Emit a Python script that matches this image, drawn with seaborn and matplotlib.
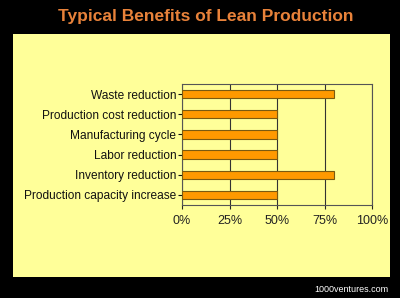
import matplotlib
matplotlib.use("Agg")
import matplotlib.pyplot as plt
import seaborn as sns
import pandas as pd

categories = ["Waste reduction", "Production cost reduction", "Manufacturing cycle",
              "Labor reduction", "Inventory reduction", "Production capacity increase"]
values = [80, 50, 50, 50, 80, 50]
tick_values = [0, 25, 50, 75, 100]
tick_labels = ["0%", "25%", "50%", "75%", "100%"]

sns.set_theme(style="white")
plt.rcParams['font.family'] = ['Liberation Sans', 'DejaVu Sans']

df = pd.DataFrame({"cat": categories, "val": values})

fig = plt.figure(figsize=(4.0, 2.98), dpi=100)
fig.patch.set_facecolor("black")

bg = fig.add_axes([13/400, 1-277/298, (390-13)/400, (277-34)/298], zorder=0)
bg.set_facecolor("#FFFF99")
bg.set_xticks([])
bg.set_yticks([])
for s in bg.spines.values():
    s.set_visible(False)

ax = fig.add_axes([182/400, 1-205/298, (372-182)/400, (205-84)/298], zorder=1)
ax.set_facecolor("#FFFF99")
sns.barplot(data=df, x="val", y="cat", orient="h", color="#FF9900", width=0.42,
            edgecolor="#7A5A10", linewidth=0.8, saturation=1, ax=ax, zorder=3)
ax.set_xlim(0, 100)
ax.set_xticks(tick_values)
ax.set_xticklabels(tick_labels, fontsize=9, color="#222222")
ax.tick_params(axis="y", labelsize=8.6, colors="#111111", length=3, width=0.8, pad=1, left=True)
ax.tick_params(axis="x", length=3, width=0.8, pad=4, bottom=True)
ax.set_xlabel("")
ax.set_ylabel("")
ax.grid(axis="x", color="#333333", linewidth=0.8, zorder=0)
ax.set_axisbelow(True)
for s in ax.spines.values():
    s.set_color("#555555")
    s.set_linewidth(0.8)

fig.text(206/400, 1-16/298, "Typical Benefits of Lean Production", ha="center", va="center",
         fontsize=12.5, fontweight="bold", color="#E8823A")
fig.text(388/400, 1-290/298, "1000ventures.com", ha="right", va="center",
         fontsize=6.5, color="white")

fig.savefig("out.png", dpi=100, facecolor=fig.get_facecolor())
